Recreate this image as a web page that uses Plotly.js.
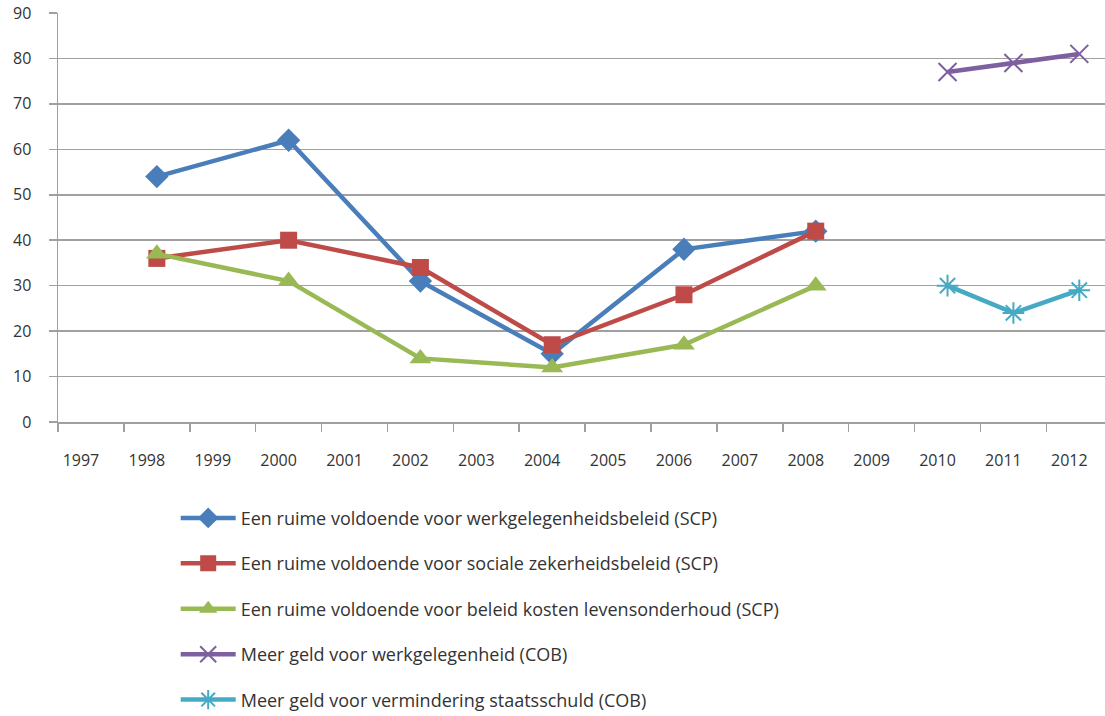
<!DOCTYPE html>
<html><head><meta charset="utf-8">
<script src="https://cdn.plot.ly/plotly-3.0.1.min.js"></script>
<style>html,body{margin:0;padding:0;background:#fff}#chart{width:1105px;height:716px}</style>
</head><body><div id="chart"></div>
<script>
const years = ['1997','1998','1999','2000','2001','2002','2003','2004','2005','2006','2007','2008','2009','2010','2011','2012'];
const scpYears = ['1998','2000','2002','2004','2006','2008'];
const cobYears = ['2010','2011','2012'];
const werkSCP = [54, 62, 31, 15, 38, 42];
const socialeSCP = [36, 40, 34, 17, 28, 42];
const levensSCP = [37, 31, 14, 12, 17, 30];
const werkCOB = [77, 79, 81];
const staatsCOB = [30, 24, 29];
const names = [
  'Een ruime voldoende voor werkgelegenheidsbeleid (SCP)',
  'Een ruime voldoende voor sociale zekerheidsbeleid (SCP)',
  'Een ruime voldoende voor beleid kosten levensonderhoud (SCP)',
  'Meer geld voor werkgelegenheid (COB)',
  'Meer geld voor vermindering staatsschuld (COB)'
];

function tr(x, y, name, color, mcolor, symbol, size, g, mline) {
  return {
    type: 'scatter', mode: 'lines+markers', x: x, y: y, name: name,
    legendgroup: g,
    line: {color: color, width: 4.5},
    marker: {symbol: symbol, size: size, color: mcolor, line: mline || {width: 0}},
    cliponaxis: false
  };
}
const data = [
  tr(scpYears, werkSCP, names[0], '#4a7ebb', '#4a7ebb', 'diamond', 18, 'a'),
  tr(scpYears, socialeSCP, names[1], '#be4b48', '#be4b48', 'square', 17, 'b'),
  tr(scpYears, levensSCP, names[2], '#98b954', '#98b954', 'triangle-up', 19, 'c'),
  tr(cobYears, werkCOB, names[3], '#7d60a0', '#7d60a0', 'x-thin-open', 18, 'd', {width: 2, color: '#7d60a0'}),
  tr(cobYears, staatsCOB, names[4], '#46aac5', '#46aac5', 'asterisk-open', 18, 'e', {width: 2, color: '#46aac5'})
];

const layout = {
  width: 1105, height: 716,
  margin: {l: 58, r: 0, t: 13, b: 294, autoexpand: false},
  paper_bgcolor: '#fff', plot_bgcolor: '#fff',
  font: {family: '"Open Sans", "Noto Sans", sans-serif', size: 16, color: '#333'},
  showlegend: true,
  legend: {
    xref: 'container', yref: 'container', x: 0.159, y: 0.302, yanchor: 'top', xanchor: 'left',
    itemwidth: 55,
    font: {size: 18, color: '#333'}, tracegroupgap: 19, bgcolor: 'rgba(0,0,0,0)'
  },
  xaxis: {
    type: 'category', categoryorder: 'array', categoryarray: years,
    range: [-0.5, 15.39], tickmode: 'array', tickvals: years, ticktext: years, tickangle: 0,
    tickson: 'boundaries', ticks: 'outside', ticklen: 8, tickwidth: 1.5, tickcolor: '#a0a0a0',
    showgrid: false, showline: true, linecolor: '#a0a0a0', linewidth: 1.5,
    ticklabelshift: -10, ticklabelstandoff: 23,
    tickfont: {size: 16, color: '#333'}, zeroline: false, fixedrange: true
  },
  yaxis: {
    range: [0, 90], tickvals: [0,10,20,30,40,50,60,70,80,90],
    ticks: 'outside', ticklen: 8, tickwidth: 1.5, tickcolor: '#a0a0a0',
    showgrid: true, gridcolor: '#a0a0a0', gridwidth: 1.5,
    showline: true, linecolor: '#a0a0a0', linewidth: 1.5,
    zeroline: false, ticklabelstandoff: 14,
    tickfont: {size: 16, color: '#333'}, fixedrange: true
  }
};
Plotly.newPlot('chart', data, layout, {displayModeBar: false, staticPlot: true});
</script></body></html>
